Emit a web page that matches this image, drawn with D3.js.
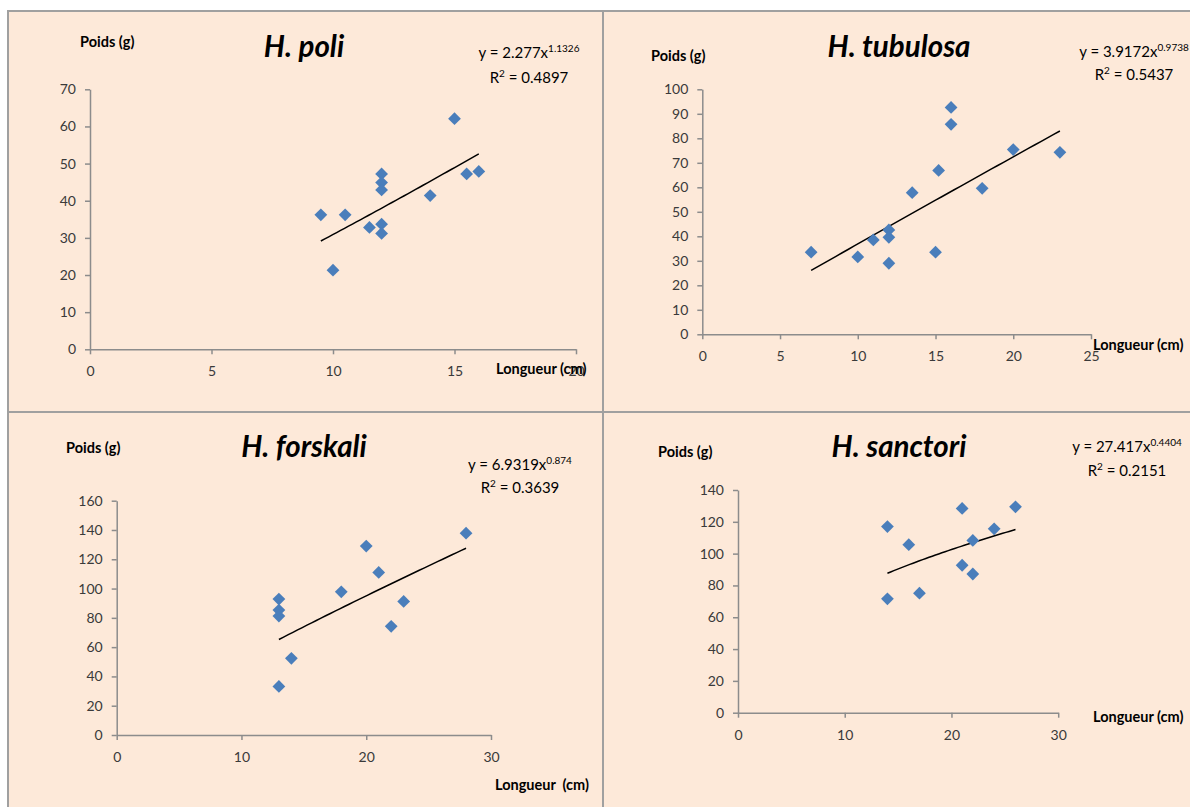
<!DOCTYPE html>
<html>
<head>
<meta charset="utf-8">
<script src="https://cdnjs.cloudflare.com/ajax/libs/d3/7.8.5/d3.min.js"></script>
<style>
  html, body { margin: 0; padding: 0; background: #fff; }
  svg { display: block; }
  .tick text { font-family: Lato, "Open Sans", sans-serif; font-size: 14px; fill: #3a3a3a; }
  .tick line, .domain { stroke: #8c8c8c; stroke-width: 1.5px; }
</style>
</head>
<body>
<svg id="chart" width="1190" height="807"></svg>
<script>
// H. poli
var poliX = [9.5, 10.5, 10, 11.5, 12, 12, 12, 12, 12, 14, 15, 15.5, 16];
var poliY = [36.2, 36.2, 21.3, 32.8, 47.2, 44.9, 42.9, 33.7, 31.2, 41.4, 62.1, 47.2, 47.9];
// H. tubulosa
var tubuX = [7, 10, 11, 12, 12, 12, 13.5, 15, 15.2, 16, 16, 18, 20, 23];
var tubuY = [33.5, 31.6, 38.5, 42.6, 39.6, 29.0, 57.8, 33.5, 66.9, 92.6, 85.7, 59.6, 75.4, 74.3];
// H. forskali
var forsX = [13, 13, 13, 13, 14, 18, 20, 21, 22, 23, 28];
var forsY = [92.8, 85.3, 81.2, 33.2, 52.4, 97.8, 129, 111, 74.2, 91.2, 137.8];
// H. sanctori
var sancX = [14, 14, 16, 17, 21, 21, 22, 22, 24, 26];
var sancY = [117, 71.6, 105.6, 75.1, 128.4, 92.7, 108.3, 87.2, 115.6, 129.4];

var titles = ["H. poli", "H. tubulosa", "H. forskali", "H. sanctori"];
// power trendline y = a x^b
var fitA = [2.277, 3.9172, 6.9319, 27.417];
var fitB = [1.1326, 0.9738, 0.874, 0.4404];
var fitA_txt = ["2.277", "3.9172", "6.9319", "27.417"];
var fitB_txt = ["1.1326", "0.9738", "0.874", "0.4404"];
var r2_txt = ["0.4897", "0.5437", "0.3639", "0.2151"];
var xMax = [20, 25, 30, 30];
var yMax = [70, 100, 160, 140];
var xStep = [5, 5, 10, 10];
var yStep = [10, 10, 20, 20];
var xLabels = ["Longueur (cm)", "Longueur (cm)", "Longueur  (cm)", "Longueur (cm)"];

var seriesX = [poliX, tubuX, forsX, sancX];
var seriesY = [poliY, tubuY, forsY, sancY];

// layout of each panel (pixel boxes for the plot area + text anchors)
var layout = [
  { x0: 90,    x1: 576,    y0: 349.3, y1: 89.3, title: [304, 57], ylab: [80, 47],  xlab: [496, 374],  eq: [529, 58, 83] },
  { x0: 702.3, x1: 1091,   y0: 334.3, y1: 89.3, title: [899, 57], ylab: [651, 61], xlab: [1093, 350], eq: [1134, 57, 80] },
  { x0: 116.7, x1: 491,    y0: 735,   y1: 500.7, title: [304, 457], ylab: [66, 453], xlab: [495, 790], eq: [520, 470, 493] },
  { x0: 738,   x1: 1058.2, y0: 712.7, y1: 490,  title: [899, 457], ylab: [658, 457], xlab: [1093, 722], eq: [1127, 452, 476] }
];

var svg = d3.select("#chart");
var font = "Lato, 'Open Sans', sans-serif";

// background + panel borders
svg.append("rect").attr("x", 8).attr("y", 11).attr("width", 1182).attr("height", 796).attr("fill", "#fde9d9");
var border = "#a0a0a0";
svg.append("line").attr("x1", 7).attr("x2", 1190).attr("y1", 11).attr("y2", 11).attr("stroke", border).attr("stroke-width", 2);
svg.append("line").attr("x1", 8).attr("x2", 8).attr("y1", 10).attr("y2", 807).attr("stroke", border).attr("stroke-width", 2);
svg.append("line").attr("x1", 603).attr("x2", 603).attr("y1", 11).attr("y2", 807).attr("stroke", border).attr("stroke-width", 2);
svg.append("line").attr("x1", 8).attr("x2", 1190).attr("y1", 412).attr("y2", 412).attr("stroke", border).attr("stroke-width", 2);

for (var i = 0; i < 4; i++) {
  var L = layout[i];
  var sx = d3.scaleLinear().domain([0, xMax[i]]).range([L.x0, L.x1]);
  var sy = d3.scaleLinear().domain([0, yMax[i]]).range([L.y0, L.y1]);

  var g = svg.append("g");

  var axisX = d3.axisBottom(sx).tickValues(d3.range(0, xMax[i] + 0.01, xStep[i]))
    .tickSize(5).tickSizeOuter(0).tickPadding(12);
  g.append("g").attr("transform", "translate(0," + L.y0 + ")").call(axisX);

  var axisY = d3.axisLeft(sy).tickValues(d3.range(0, yMax[i] + 0.01, yStep[i]))
    .tickSize(5).tickSizeOuter(0).tickPadding(9);
  g.append("g").attr("transform", "translate(" + L.x0 + ",0)").call(axisY);

  // trendline over the data range
  var xs = seriesX[i];
  var ext = d3.extent(xs);
  var fx = d3.range(ext[0], ext[1] + 0.001, (ext[1] - ext[0]) / 40);
  var a = fitA[i], b = fitB[i];
  var fnLine = d3.line()
    .x(function (d) { return sx(d); })
    .y(function (d) { return sy(a * Math.pow(d, b)); });
  g.append("path").datum(fx)
    .attr("fill", "none").attr("stroke", "#000").attr("stroke-width", 1.5)
    .attr("d", fnLine);

  // diamond markers
  var pts = xs.map(function (d, k) { return [d, seriesY[i][k]]; });
  var sym = d3.symbol().type(d3.symbolDiamond2).size(104);
  g.selectAll("path.pt").data(pts).enter().append("path")
    .attr("class", "pt")
    .attr("transform", function (d) { return "translate(" + sx(d[0]) + "," + sy(d[1]) + ")"; })
    .attr("d", sym)
    .attr("fill", "#4a7ebb");

  // title
  g.append("text").attr("x", L.title[0]).attr("y", L.title[1])
    .attr("text-anchor", "middle").attr("font-family", font)
    .attr("font-size", 29.5).attr("font-weight", "bold").attr("font-style", "italic")
    .attr("fill", "#000").text(titles[i]);

  // axis titles
  g.append("text").attr("x", L.ylab[0]).attr("y", L.ylab[1])
    .attr("font-family", font).attr("font-size", 14.5).attr("font-weight", "bold")
    .attr("fill", "#000").text("Poids (g)");
  g.append("text").attr("x", L.xlab[0]).attr("y", L.xlab[1])
    .attr("font-family", font).attr("font-size", 14.5).attr("font-weight", "bold")
    .attr("fill", "#000").style("white-space", "pre").text(xLabels[i]);

  // equation
  var eq = g.append("text").attr("x", L.eq[0]).attr("y", L.eq[1])
    .attr("text-anchor", "middle").attr("font-family", font).attr("font-size", 15).attr("fill", "#000");
  eq.append("tspan").text("y = " + fitA_txt[i] + "x");
  eq.append("tspan").attr("dy", -6).attr("font-size", 10).text(fitB_txt[i]);

  var r2 = g.append("text").attr("x", L.eq[0]).attr("y", L.eq[2])
    .attr("text-anchor", "middle").attr("font-family", font).attr("font-size", 15).attr("fill", "#000");
  r2.append("tspan").text("R");
  r2.append("tspan").attr("dy", -6).attr("font-size", 10).text("2");
  r2.append("tspan").attr("dy", 6).text(" = " + r2_txt[i]);
}
</script>
</body>
</html>
